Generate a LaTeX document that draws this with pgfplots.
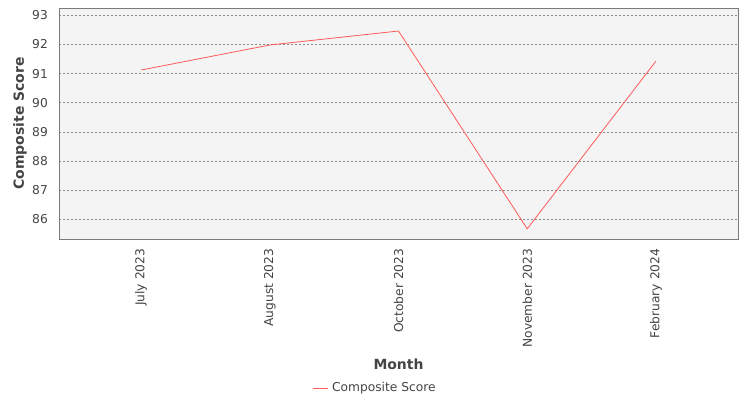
\documentclass[border=0pt]{standalone}
\usepackage{pgfplots}
\pgfplotsset{compat=1.18}
\usepackage{fontspec}
\setmainfont{DejaVu Sans}

\definecolor{plotbg}{HTML}{F4F4F4}
\definecolor{framegray}{HTML}{7A7A7A}
\definecolor{gridgray}{HTML}{8A8A8A}
\definecolor{axisgray}{HTML}{BEBEBE}
\definecolor{textgray}{HTML}{444444}
\definecolor{seriesred}{HTML}{FF5A5A}

\begin{document}
\begin{tikzpicture}
    \useasboundingbox (-59bp,-161bp) rectangle (691bp,239bp);
    \begin{axis}
    [
        scale only axis,
        width=679bp,
        height=231bp,
        at={(0,0)},
        anchor=south west,
        xmin=-0.637,
        xmax=4.637,
        ymin=85.32,
        ymax=93.25,
        axis background/.style={fill=plotbg},
        axis line style={draw=framegray, line width=0.9bp},
        xtick={0,...,4},
        xticklabels={July 2023, August 2023, October 2023, November 2023, February 2024},
        ytick={86,...,93},
        major tick length=0pt,
        ymajorgrids,
        major grid style={gridgray, dash pattern=on 2bp off 2bp, line width=0.6bp},
        tick label style={font=\fontsize{12.3}{14}\selectfont, text=textgray},
        /pgf/number format/assume math mode=true,
        xticklabel style={rotate=90, anchor=east, inner sep=0pt},
        yticklabel style={anchor=east, inner sep=0pt},
        xticklabel shift=9.5bp,
        yticklabel shift=11bp,
        xlabel={Month},
        ylabel={Composite Score},
        label style={font=\bfseries\fontsize{14}{16}\selectfont, text=textgray},
        xlabel style={at={([yshift=-125bp]axis description cs:0.5,0)}, anchor=center},
        ylabel style={at={([xshift=-39bp]axis description cs:0,0.5)}, anchor=center},
        legend style={
            at={([yshift=-149bp]axis description cs:0.4654,0)},
            anchor=center, draw=none, fill=none,
            font=\fontsize{12.3}{14}\selectfont, text=textgray
        },
        legend image code/.code={\draw[#1] (0bp,0bp) -- (15bp,0bp); \path (17bp,0bp);},
    ]
        \addplot[seriesred, line width=0.8bp] coordinates {
            (0, 91.12)
            (1, 91.98)
            (2, 92.46)
            (3, 85.67)
            (4, 91.43)
        };
        \addlegendentry{Composite Score}

        % offset axis lines and small x ticks
        \draw[axisgray, line width=1bp] ([xshift=-3.7bp]rel axis cs:0,0) -- ([xshift=-3.7bp]rel axis cs:0,1);
        \draw[axisgray, line width=1bp] ([yshift=-3.7bp]rel axis cs:0,0) -- ([yshift=-3.7bp]rel axis cs:1,0);
        \pgfplotsinvokeforeach{0,...,4}{
            \draw[axisgray, line width=0.8bp] ([yshift=-3.7bp]axis cs:#1,85.32) -- ++(0,-2.5bp);
        }
    \end{axis}
\end{tikzpicture}
\end{document}
